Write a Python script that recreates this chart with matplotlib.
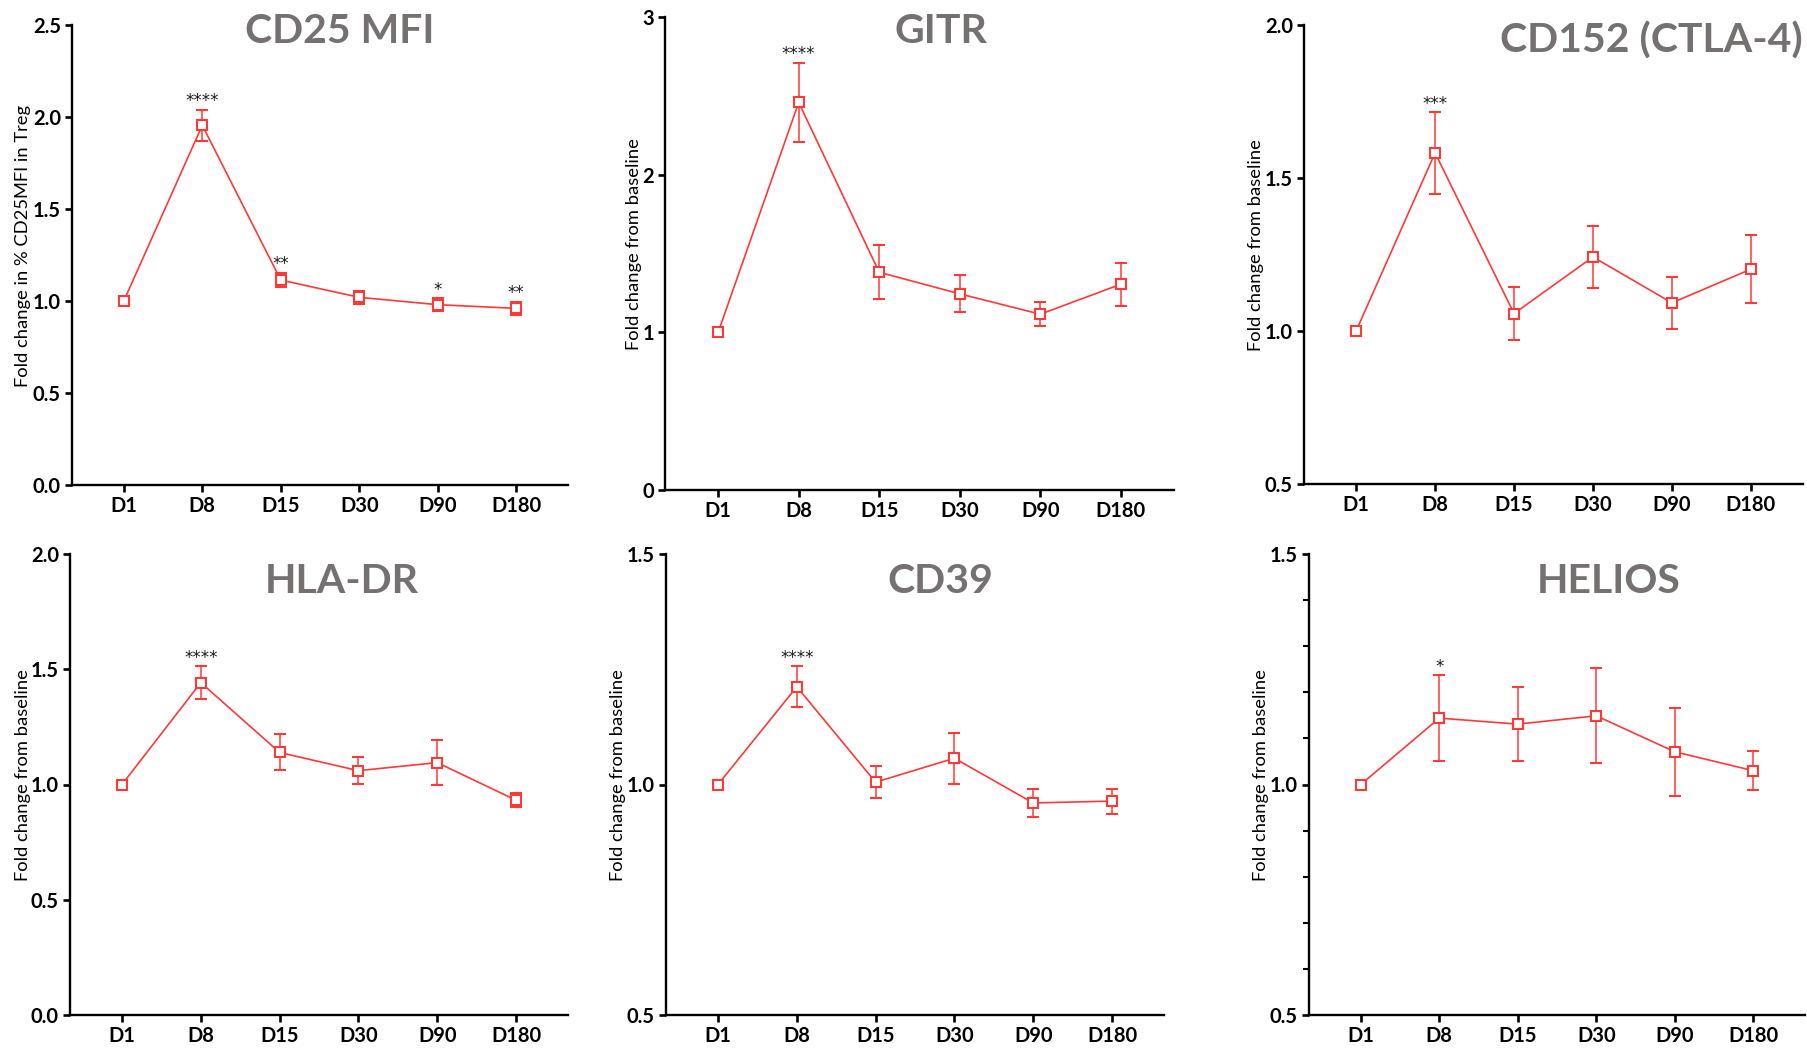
import numpy as np
import matplotlib.pyplot as plt

plt.rcParams['font.family'] = ['Lato', 'DejaVu Sans']

days = ['D1', 'D8', 'D15', 'D30', 'D90', 'D180']

cd25_mean = [1.0, 1.955, 1.114, 1.02, 0.98, 0.96]
cd25_err = [np.nan, 0.085, 0.04, 0.037, 0.034, 0.037]
cd25_stars = ['', '****', '**', '', '*', '**']

gitr_mean = [1.0, 2.458, 1.381, 1.244, 1.115, 1.305]
gitr_err = [np.nan, 0.253, 0.17, 0.117, 0.076, 0.135]
gitr_stars = ['', '****', '', '', '', '']

ctla4_mean = [1.0, 1.582, 1.057, 1.242, 1.092, 1.202]
ctla4_err = [np.nan, 0.133, 0.086, 0.1, 0.085, 0.112]
ctla4_stars = ['', '***', '', '', '', '']

hladr_mean = [1.0, 1.442, 1.139, 1.06, 1.095, 0.932]
hladr_err = [np.nan, 0.07, 0.078, 0.058, 0.098, 0.03]
hladr_stars = ['', '****', '', '', '', '']

cd39_mean = [1.0, 1.212, 1.005, 1.057, 0.96, 0.964]
cd39_err = [np.nan, 0.044, 0.035, 0.055, 0.03, 0.027]
cd39_stars = ['', '****', '', '', '', '']

helios_mean = [1.0, 1.144, 1.131, 1.149, 1.071, 1.03]
helios_err = [np.nan, 0.093, 0.08, 0.103, 0.096, 0.043]
helios_stars = ['', '*', '', '', '', '']

titles = ['CD25 MFI', 'GITR', 'CD152 (CTLA-4)', 'HLA-DR', 'CD39', 'HELIOS']
ylabels = ['Fold change in % CD25MFI in Treg'] + ['Fold change from baseline'] * 5

RED = '#ff3838'
GREY = '#767171'

W, H = 1807, 1051
fig = plt.figure(figsize=(W / 100, H / 100), dpi=100)


def rect(left, right, top, bottom):
    return [left / W, 1 - bottom / H, (right - left) / W, (bottom - top) / H]


# axes boxes in pixels: left, right, top, bottom
boxes = [
    rect(72, 568, 25, 485),
    rect(665, 1174, 17, 490),
    rect(1304, 1803, 25, 484),
    rect(70, 568, 554, 1015),
    rect(666, 1164, 554, 1015),
    rect(1309, 1805, 554, 1015),
]

panels = [
    (cd25_mean, cd25_err, cd25_stars, (0, 2.5), [0, 0.5, 1.0, 1.5, 2.0, 2.5], '%.1f'),
    (gitr_mean, gitr_err, gitr_stars, (0, 3), [0, 1, 2, 3], '%d'),
    (ctla4_mean, ctla4_err, ctla4_stars, (0.5, 2.0), [0.5, 1.0, 1.5, 2.0], '%.1f'),
    (hladr_mean, hladr_err, hladr_stars, (0, 2.0), [0, 0.5, 1.0, 1.5, 2.0], '%.1f'),
    (cd39_mean, cd39_err, cd39_stars, (0.5, 1.5), [0.5, 1.0, 1.5], '%.1f'),
    (helios_mean, helios_err, helios_stars, (0.5, 1.5), [0.5, 1.0, 1.5], '%.1f'),
]

title_pos = [(0.54, 0.985), (0.542, 0.969), (0.697, 0.967),
             (0.545, 0.941), (0.551, 0.941), (0.605, 0.941)]
ylabel_x = [-0.083, -0.045, -0.081, -0.078, -0.080, -0.080]

x = np.arange(len(days))

for i, (mean, err, stars, ylim, yticks, fmt) in enumerate(panels):
    ax = fig.add_axes(boxes[i])
    ax.errorbar(x, mean, yerr=err, color=RED, lw=1.2, elinewidth=1.1,
                capsize=4, capthick=1.1, marker='s', ms=7, mfc='white',
                mec=RED, mew=1.5, zorder=3)

    for xi, m, e, s in zip(x, mean, err, stars):
        if s:
            top = m + (0 if np.isnan(e) else e)
            ax.annotate(s, (xi, top), xytext=(0, 2.5), textcoords='offset points',
                        ha='center', va='baseline', fontsize=12,
                        family='DejaVu Sans', color='#1a1a1a')

    ax.set_xlim(-0.66, 5.66)
    ax.set_ylim(*ylim)
    ax.set_xticks(x)
    ax.set_xticklabels(days, fontsize=14.5, fontweight='bold')
    ax.set_yticks(yticks)
    ax.set_yticklabels([fmt % t for t in yticks], fontsize=14.5, fontweight='bold')
    if i == 5:
        ax.set_yticks(np.arange(0.6, 1.45, 0.1), minor=True)
        ax.tick_params(axis='y', which='minor', length=4, width=1.5)

    for side in ['top', 'right']:
        ax.spines[side].set_visible(False)
    for side in ['left', 'bottom']:
        ax.spines[side].set_linewidth(1.7)
    ax.tick_params(which='major', direction='out', length=5, width=1.9, pad=3)

    ax.set_ylabel(ylabels[i], fontsize=13.2)
    ax.yaxis.set_label_coords(ylabel_x[i], 0.52)

    tx, ty = title_pos[i]
    ax.text(tx, ty, titles[i], transform=ax.transAxes, ha='center', va='center',
            fontsize=29.5, fontweight='bold', color=GREY)

fig.savefig('out.png', dpi=100)
